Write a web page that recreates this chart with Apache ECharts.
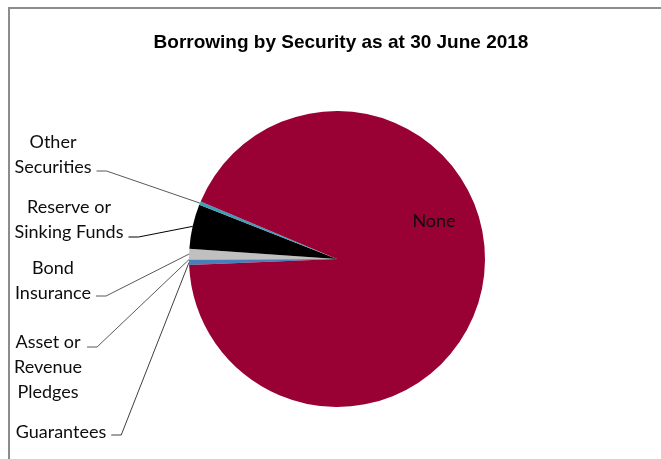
<!DOCTYPE html>
<html><head><meta charset="utf-8">
<script src="https://cdn.jsdelivr.net/npm/echarts@6/dist/echarts.min.js"></script>
<style>html,body{margin:0;padding:0;background:#fff}#c{width:661px;height:459px}</style>
</head><body><div id="c"></div>
<script>
// ---- data ----
const titleText = 'Borrowing by Security as at 30 June 2018';
const categories = ['Guarantees', 'Asset or Revenue Pledges', 'Bond Insurance', 'Reserve or Sinking Funds', 'Other Securities', 'None'];
const labelTexts = ['Guarantees', 'Asset or\nRevenue\nPledges', 'Bond\nInsurance', 'Reserve or\nSinking Funds', 'Other\nSecurities', 'None'];
const values = [0.55, 0.05, 1.15, 4.85, 0.40, 93.0];

// ---- styles / layout ----
const colors = ['#4A7EBB', '#7F7F7F', '#C0C0C0', '#000000', '#3E9DB8', '#990033'];
const leaderColors = ['#404040', '#595959', '#595959', '#000000', '#595959', null];
// label text block: centre x, top y, leader y offset from top
const labelPlace = [
  {x: 61, top: 419.5, lineY: 15.5},
  {x: 48, top: 329.5, lineY: 17.5},
  {x: 53, top: 255.5, lineY: 40.5},
  {x: 69, top: 195, lineY: 42},
  {x: 53, top: 129.5, lineY: 41.5},
  {x: 434, top: 221, inside: true}
];

const chart = echarts.init(document.getElementById('c'));
const data = categories.map((name, i) => {
  const item = {
    name: name,
    value: values[i],
    itemStyle: {color: colors[i]},
    label: {formatter: labelTexts[i]}
  };
  if (labelPlace[i].inside) {
    item.label.position = 'inside';
    item.labelLine = {show: false};
  } else {
    item.labelLine = {lineStyle: {color: leaderColors[i], width: 1}};
  }
  return item;
});

chart.setOption({
  animation: false,
  backgroundColor: '#ffffff',
  title: {
    text: titleText,
    left: 336,
    textAlign: 'center',
    top: 28,
    textStyle: {fontFamily: 'Liberation Sans', fontWeight: 'bold', fontSize: 19, color: '#000'}
  },
  graphic: [
    {type: 'line', shape: {x1: 9, y1: 8, x2: 9, y2: 459}, style: {stroke: '#8c8c8c', lineWidth: 2}},
    {type: 'line', shape: {x1: 8, y1: 8, x2: 661, y2: 8}, style: {stroke: '#8c8c8c', lineWidth: 2}}
  ],
  series: [{
    type: 'pie',
    center: [337, 259],
    radius: 148,
    startAngle: 182.3,
    clockwise: true,
    avoidLabelOverlap: false,
    label: {
      show: true,
      position: 'outside',
      fontFamily: 'Lato',
      fontSize: 18,
      lineHeight: 25,
      color: '#0d0d0d'
    },
    labelLine: {show: true, length: 10, length2: 10, smooth: false},
    emphasis: {disabled: true},
    data: data,
    labelLayout: function (params) {
      const p = labelPlace[params.dataIndex];
      if (p.inside) {
        return {x: p.x, y: p.top, align: 'center', verticalAlign: 'middle'};
      }
      const w = params.labelRect.width;
      const right = p.x + w / 2 + 5;
      const ly = p.top + p.lineY;
      const pts = params.labelLinePoints;
      const start = pts && pts[0] ? pts[0] : [right + 10, ly];
      return {
        x: p.x, y: p.top, align: 'center', verticalAlign: 'top',
        labelLinePoints: [start, [right + 10, ly], [right, ly]]
      };
    }
  }]
});
</script></body></html>
